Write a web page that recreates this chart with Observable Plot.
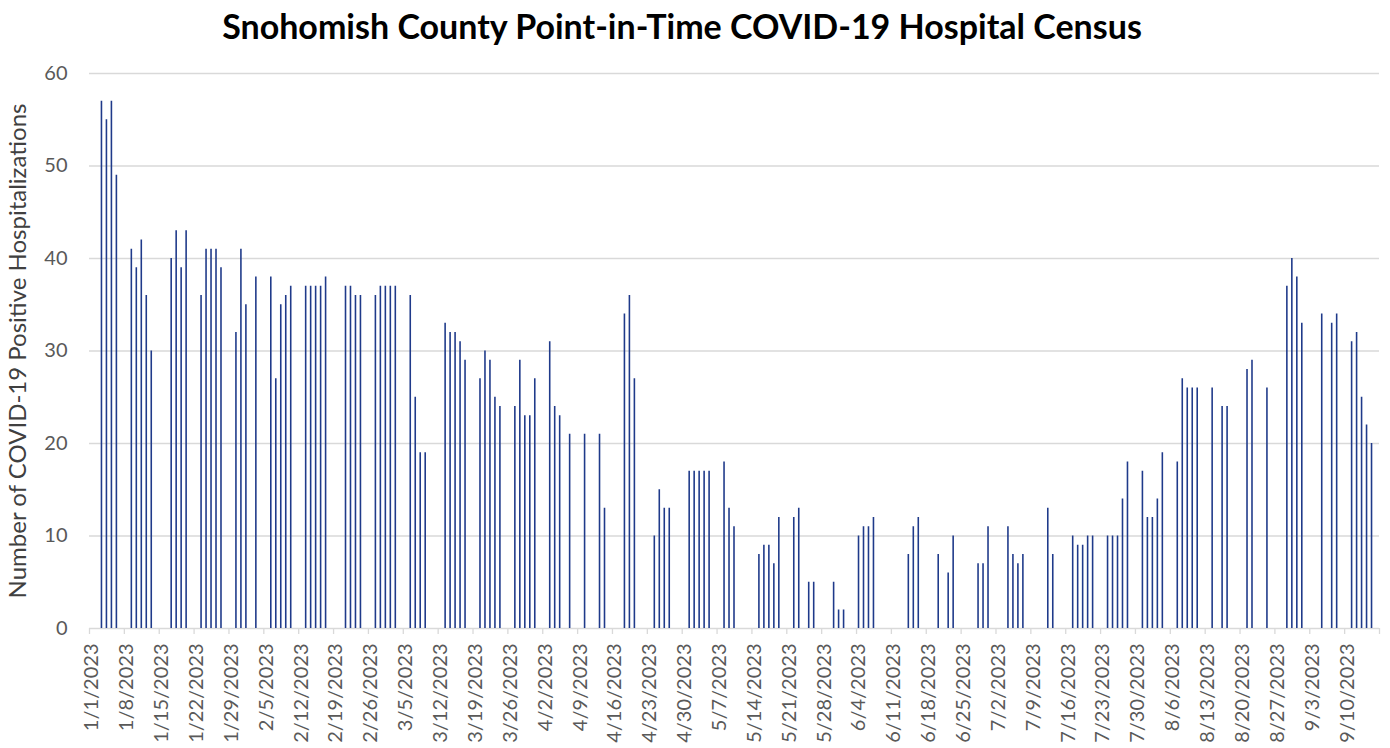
<!DOCTYPE html>
<html><head><meta charset="utf-8">
<script src="https://cdn.jsdelivr.net/npm/d3@7"></script>
<script src="https://cdn.jsdelivr.net/npm/@observablehq/plot@0.6"></script>
<style>
body{margin:0;background:#fff;font-family:Lato,sans-serif}
#title{height:50px;line-height:52px;text-align:center;font-weight:bold;font-size:34px;color:#000;padding-right:26px;white-space:nowrap}
#chart svg{display:block}
</style></head><body>
<div id="title">Snohomish County Point-in-Time COVID-19 Hospital Census</div>
<div id="chart"></div>
<script>
const reportDates = ["1/3","1/4","1/5","1/6","1/9","1/10","1/11","1/12","1/13","1/17","1/18","1/19","1/20","1/23","1/24","1/25","1/26","1/27","1/30","1/31","2/1","2/3","2/6","2/7","2/8","2/9","2/10","2/13","2/14","2/15","2/16","2/17","2/21","2/22","2/23","2/24","2/27","2/28","3/1","3/2","3/3","3/6","3/7","3/8","3/9","3/13","3/14","3/15","3/16","3/17","3/20","3/21","3/22","3/23","3/24","3/27","3/28","3/29","3/30","3/31","4/3","4/4","4/5","4/7","4/10","4/13","4/14","4/18","4/19","4/20","4/24","4/25","4/26","4/27","5/1","5/2","5/3","5/4","5/5","5/8","5/9","5/10","5/15","5/16","5/17","5/18","5/19","5/22","5/23","5/25","5/26","5/30","5/31","6/1","6/4","6/5","6/6","6/7","6/14","6/15","6/16","6/20","6/22","6/23","6/28","6/29","6/30","7/4","7/5","7/6","7/7","7/12","7/13","7/17","7/18","7/19","7/20","7/21","7/24","7/25","7/26","7/27","7/28","7/31","8/1","8/2","8/3","8/4","8/7","8/8","8/9","8/10","8/11","8/14","8/16","8/17","8/21","8/22","8/25","8/29","8/30","8/31","9/1","9/5","9/7","9/8","9/11","9/12","9/13","9/14","9/15"];
const hospitalized = [57,55,57,49,41,39,42,36,30,40,43,39,43,36,41,41,41,39,32,41,35,38,38,27,35,36,37,37,37,37,37,38,37,37,36,36,36,37,37,37,37,36,25,19,19,33,32,32,31,29,27,30,29,25,24,24,29,23,23,27,31,24,23,21,21,21,13,34,36,27,10,15,13,13,17,17,17,17,17,18,13,11,8,9,9,7,12,12,13,5,5,5,2,2,10,11,11,12,8,11,12,8,6,10,7,7,11,11,8,7,8,13,8,10,9,9,10,10,10,10,10,14,18,17,12,12,14,19,18,27,26,26,26,26,24,24,28,29,26,37,40,38,33,34,33,34,31,32,25,22,20];
const yTicks = [0,10,20,30,40,50,60];
const yLabel = "Number of COVID-19 Positive Hospitalizations";

const W = 1390, H = 698, ML = 89, MR = 11, MT = 23, MB = 120;
const allDays = [];
for (let t = new Date(2023,0,1); t <= new Date(2023,8,16); t.setDate(t.getDate()+1)) {
  allDays.push(`${t.getMonth()+1}/${t.getDate()}/2023`);
}
const rows = reportDates.map((d,i) => ({day: d + "/2023", n: hospitalized[i]}));
const tickDays = allDays.filter((d,i) => i % 7 === 0);
const bw = (W - ML - MR) / allDays.length;

const chart = Plot.plot({
  width: W, height: H, marginLeft: ML, marginRight: MR, marginTop: MT, marginBottom: MB,
  style: {fontFamily: "Lato, sans-serif", background: "#fff"},
  x: {type: "band", domain: allDays, padding: 0, axis: null},
  y: {domain: [0, 60], axis: null},
  marks: [
    Plot.ruleY(yTicks, {stroke: "#d9d9d9", strokeWidth: 1.3}),
    Plot.barY(rows, {x: "day", y: "n", fill: "#1f3a8a", insetLeft: 1.7, insetRight: 1.7}),
    Plot.ruleX(tickDays, {x: d => d, y1: 0, y2: 0, insetBottom: -6, dx: -bw/2, stroke: "#d9d9d9", strokeWidth: 1.3}),
    Plot.ruleX([allDays[allDays.length-1]], {x: d => d, y1: 0, y2: 0, insetBottom: -6, dx: bw/2, stroke: "#d9d9d9", strokeWidth: 1.3}),
    Plot.text(tickDays, {x: d => d, y: 0, text: d => d, rotate: -90, textAnchor: "end", lineAnchor: "middle", dy: 15, fontSize: 20, fill: "#595959"}),
    Plot.text(yTicks, {y: d => d, frameAnchor: "left", dx: -22, textAnchor: "end", text: d => String(d), fontSize: 20, fill: "#595959"}),
    Plot.text([yLabel], {frameAnchor: "left", dx: -71, rotate: -90, textAnchor: "middle", lineAnchor: "middle", text: d => d, fontSize: 24, fill: "#404040"})
  ]
});
document.getElementById("chart").appendChild(chart);
</script>
</body></html>
